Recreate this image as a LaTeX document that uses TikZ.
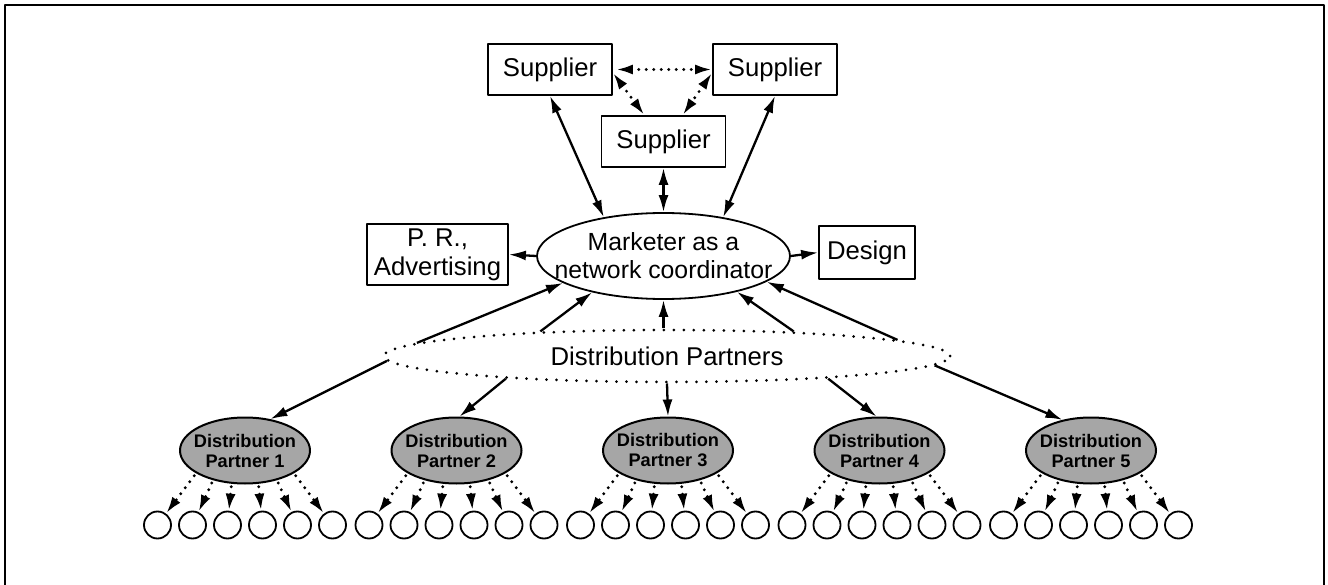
\documentclass[tikz,border=0pt]{standalone}
\usepackage{fontspec}
\setmainfont{Liberation Sans}
\usetikzlibrary{arrows.meta,shapes.geometric}
\tikzset{
	box/.style={draw,line width=1.8pt,inner sep=0pt,align=center,font=\fontsize{25.7}{29}\selectfont},
	supplierbox/.style={box,minimum width=124pt,minimum height=51pt},
	oval/.style={ellipse,draw,line width=1.8pt,inner sep=-30pt,align=center,font=\fontsize{25.7}{29}\selectfont},
	partner/.style={ellipse,draw,line width=2pt,fill=black!35,inner sep=-25pt,minimum width=130pt,minimum height=66pt,align=center,font=\fontsize{18.2}{20}\selectfont\bfseries},
	leaf/.style={circle,draw,line width=1.8pt,inner sep=0pt,minimum size=27pt},
	solidarr/.style={line width=2.3pt},
	dotarr/.style={line width=3.2pt,line cap=round,dash pattern=on 0pt off 7.5pt,shorten <=3pt}
}
\begin{document}
\begin{tikzpicture}[x=1pt,y=-1pt,>={Latex[length=17pt,width=10pt]},line join=round]
	\useasboundingbox (0,0) rectangle (1328,585);
	\draw[line width=2pt] (5,585) -- (5,5) -- (1324,5) -- (1324,585);
	\node[supplierbox] (S1) at (550,69.5) {Supplier};
	\node[supplierbox] (S2) at (775,69.5) {Supplier};
	\node[supplierbox] (S3) at (663.5,141.5) {Supplier};
	\node[oval,minimum width=253pt,minimum height=86pt,font=\fontsize{24.8}{28}\selectfont] (M) at (663.5,256) {Marketer as a\\network coordinator};
	\node[box,minimum width=141pt,minimum height=61pt] (PR) at (437.5,254.5) {P. R.,\\Advertising};
	\node[box,minimum width=96pt,minimum height=53pt] (D) at (867,252.5) {Design};
	\node[oval,dash pattern=on 0pt off 10pt,line width=3pt,line cap=round,minimum width=566pt,minimum height=52pt] (DP) at (667,356) {Distribution Partners};
	\draw[dotarr,<->,shorten >=0pt] (S1.east) -- (S2.west);
	\draw[dotarr,<->,shorten >=0pt,shorten <=0pt] (S1.-3) -- (S3.126);
	\draw[dotarr,<->,shorten >=0pt,shorten <=0pt] (S2.183) -- (S3.54);
	\draw[solidarr,<->] (S1.south) -- (M.147);
	\draw[solidarr,<->] (S2.south) -- (M.33);
	\draw[solidarr,<->] (S3.south) -- (M.north);
	\draw[solidarr,->] (M.west) -- (PR.east);
	\draw[solidarr,->] (M.east) -- (D.west);
	\draw[solidarr,->] (DP.177) -- (M.195);
	\draw[solidarr,->] (DP.169) -- (M.207);
	\draw[solidarr,->] (M.south |- DP.north) -- (M.south);
	\draw[solidarr,->] (DP.11) -- (M.334);
	\draw[solidarr,->] (DP.4) -- (M.346);
	\foreach \i in {1,...,5}{
		\pgfmathsetmacro\px{245+211.5*(\i-1)}
		\node[partner] (P\i) at (\px,450.5) {Distribution\\Partner \i};
		\foreach \k/\a in {1/205,2/223,3/248,4/292,5/317,6/335}{
			\node[leaf] (c\i-\k) at (\px+35*\k-122.5,525) {};
			\draw[dotarr,->] (P\i.\a) -- (c\i-\k);
		}
	}
	\draw[solidarr,->] (DP.181) -- (P1.51);
	\draw[solidarr,->] (DP.188) -- (P2.85);
	\draw[solidarr,->] (DP.south) -- (P3.north);
	\draw[solidarr,->] (DP.352) -- (P4.95);
	\draw[solidarr,->] (DP.358.5) -- (P5.133);
\end{tikzpicture}
\end{document}
